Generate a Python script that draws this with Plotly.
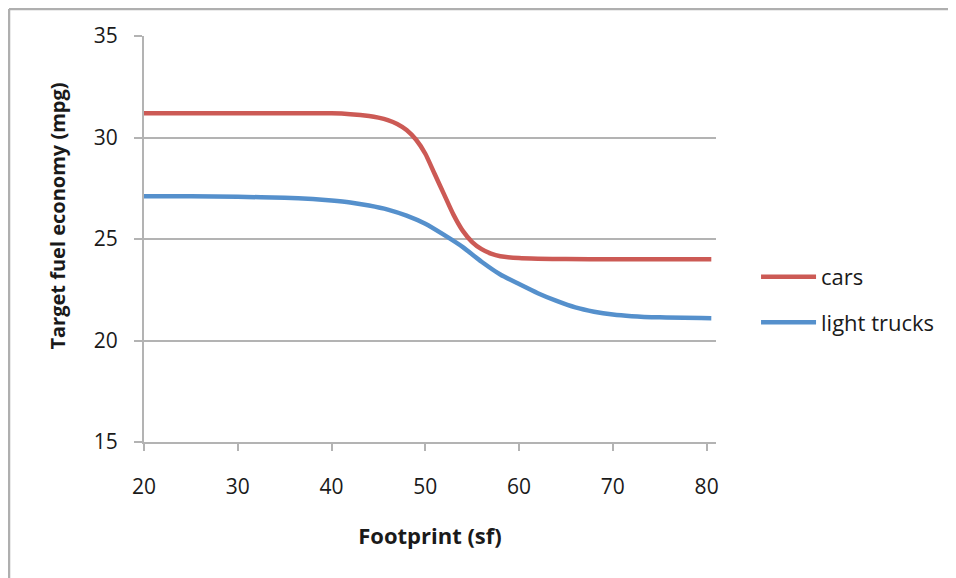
import plotly.graph_objects as go

# Data
cars_x = [20, 25, 30, 35, 40, 42, 44, 45, 46, 47, 48, 49, 50, 51, 52, 53, 54, 55, 56, 57, 58, 60, 62, 65, 70, 75, 80.5]
cars_y = [31.2, 31.2, 31.2, 31.2, 31.19, 31.15, 31.06, 30.98, 30.86, 30.67, 30.37, 29.9, 29.2, 28.2, 27.2, 26.2, 25.4, 24.85, 24.5, 24.28, 24.15, 24.06, 24.03, 24.01, 24.0, 24.0, 24.0]

trucks_x = [20, 25, 30, 35, 38, 40, 42, 44, 46, 48, 50, 52, 54, 56, 58, 60, 62, 64, 66, 68, 70, 72, 75, 80.5]
trucks_y = [27.1, 27.1, 27.08, 27.03, 26.97, 26.9, 26.8, 26.65, 26.45, 26.15, 25.75, 25.2, 24.6, 23.88, 23.25, 22.78, 22.33, 21.95, 21.63, 21.42, 21.28, 21.2, 21.14, 21.1]

x_ticks = [20, 30, 40, 50, 60, 70, 80]
y_ticks = [15, 20, 25, 30, 35]

RED = "#CC5A55"
BLUE = "#5590CC"
GRID = "#B3B3B3"
FONT = "Open Sans"

fig = go.Figure()
fig.add_trace(go.Scatter(x=cars_x, y=cars_y, mode="lines", name="cars",
                         line=dict(color=RED, width=4.5, shape="spline", smoothing=0.6),
                         legendgroup="a"))
fig.add_trace(go.Scatter(x=trucks_x, y=trucks_y, mode="lines", name="light trucks",
                         line=dict(color=BLUE, width=4.5, shape="spline", smoothing=0.6),
                         legendgroup="b"))

fig.update_layout(
    width=948, height=570,
    margin=dict(l=136, r=240, t=28, b=136),
    paper_bgcolor="white", plot_bgcolor="white",
    font=dict(family=FONT, size=20, color="#1a1a1a"),
    showlegend=True,
    legend=dict(x=1.07, y=0.35, xanchor="left", yanchor="middle",
                font=dict(family=FONT, size=22, color="#1a1a1a"),
                itemwidth=55, tracegroupgap=14, traceorder="grouped",
                bgcolor="rgba(0,0,0,0)"),
    xaxis=dict(range=[20, 81], tickvals=x_ticks, showgrid=False, zeroline=False,
               showline=True, linecolor=GRID, linewidth=2,
               ticks="outside", ticklen=7, tickcolor=GRID, tickwidth=2,
               tickfont=dict(size=21), ticklabelstandoff=18,
               title=dict(text="<b>Footprint (sf)</b>", font=dict(size=22), standoff=29)),
    yaxis=dict(range=[15, 35], tickvals=y_ticks, showgrid=True, gridcolor=GRID, gridwidth=2,
               zeroline=False, showline=True, linecolor=GRID, linewidth=2,
               ticks="outside", ticklen=8, tickcolor=GRID, tickwidth=2,
               tickfont=dict(size=21), ticklabelstandoff=12),
    annotations=[
        dict(text="<b>Target fuel economy (mpg)</b>", xref="paper", yref="paper",
             x=-0.152, y=0.5554, xanchor="center", yanchor="middle", textangle=-90,
             showarrow=False, font=dict(family=FONT, size=20, color="#1a1a1a")),
    ],
    shapes=[
        dict(type="line", xref="paper", yref="paper", x0=-0.236, x1=1.45, y0=1.0665, y1=1.0665,
             line=dict(color="#AFAFAF", width=2.5)),
        dict(type="line", xref="paper", yref="paper", x0=-0.236, x1=-0.236, y0=1.0665, y1=-0.4,
             line=dict(color="#AFAFAF", width=2.5)),
    ],
)

fig.write_html("out.html")
